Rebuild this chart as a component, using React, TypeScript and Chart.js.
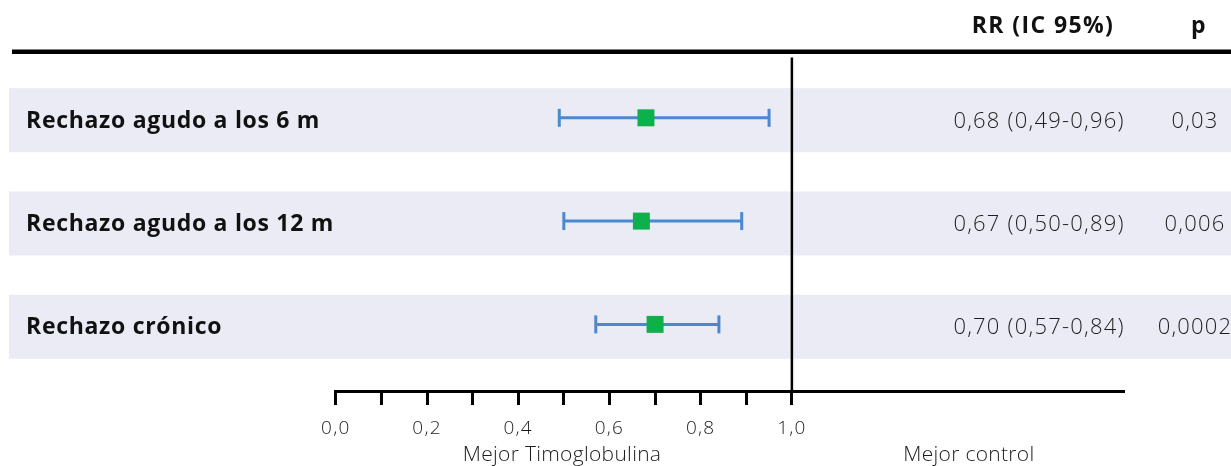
import React, { useEffect, useRef } from "react";
import { Chart, registerables } from "chart.js";

Chart.register(...registerables);

const categories = ["Rechazo agudo a los 6 m", "Rechazo agudo a los 12 m", "Rechazo crónico"];
const rr = [0.68, 0.67, 0.7];
const ciLow = [0.49, 0.5, 0.57];
const ciHigh = [0.95, 0.89, 0.84];
const rrLabels = ["0,68 (0,49-0,96)", "0,67 (0,50-0,89)", "0,70 (0,57-0,84)"];
const pValues = ["0,03", "0,006", "0,0002"];
const headerRR = "RR (IC 95%)";
const headerP = "p";
const leftNote = "Mejor Timoglobulina";
const rightNote = "Mejor control";
const tickValues = [0, 0.1, 0.2, 0.3, 0.4, 0.5, 0.6, 0.7, 0.8, 0.9, 1.0];
const labeledTicks = [0, 0.2, 0.4, 0.6, 0.8, 1.0];

const W = 1231;
const H = 466;
const GREEN = "#0db04b";
const BLUE = "#4a89cf";
const BAND = "#ebebf5";
const FAMILY = "'Open Sans', 'Noto Sans', sans-serif";
const BOLD_FONT = `bold 23px ${FAMILY}`;
const LIGHT_FONT = `300 22px ${FAMILY}`;
const NOTE_FONT = `300 21px ${FAMILY}`;
const TEXT_DARK = "#111";
const TEXT_GRAY = "#1e1e1e";

const forestPlugin = {
  id: "forestDecor",
  beforeDraw(chart: any) {
    const ctx = chart.ctx;
    const y = chart.scales.y;
    ctx.save();
    ctx.fillStyle = BAND;
    categories.forEach((_, i) => {
      const top = y.getPixelForValue(i - 0.287);
      const bot = y.getPixelForValue(i + 0.333);
      ctx.fillRect(9, top, W - 9, bot - top);
    });
    ctx.fillStyle = "#000";
    ctx.fillRect(12, 49.5, W - 12, 4.5);
    ctx.restore();
    // spacing used by the axis tick labels
    ctx.letterSpacing = "1.2px";
  },
  beforeDatasetsDraw(chart: any) {
    const ctx = chart.ctx;
    const x = chart.scales.x;
    const area = chart.chartArea;
    ctx.save();
    ctx.strokeStyle = "#000";
    ctx.lineWidth = 2.5;
    const px = x.getPixelForValue(1);
    ctx.beginPath();
    ctx.moveTo(px, area.top);
    ctx.lineTo(px, area.bottom);
    ctx.stroke();
    ctx.restore();
  },
  afterDraw(chart: any) {
    const ctx = chart.ctx;
    const x = chart.scales.x;
    const y = chart.scales.y;
    ctx.save();
    ctx.textBaseline = "middle";
    ctx.font = BOLD_FONT;
    ctx.fillStyle = TEXT_DARK;
    ctx.textAlign = "center";
    ctx.letterSpacing = "1.4px";
    ctx.fillText(headerRR, 1043, 26);
    ctx.fillText(headerP, 1199, 26);
    categories.forEach((c, i) => {
      const cy = y.getPixelForValue(i) + 3.5;
      ctx.font = BOLD_FONT;
      ctx.fillStyle = TEXT_DARK;
      ctx.textAlign = "left";
      ctx.letterSpacing = "0.7px";
      ctx.fillText(c, 26, cy);
      ctx.font = LIGHT_FONT;
      ctx.fillStyle = TEXT_GRAY;
      ctx.textAlign = "center";
      ctx.letterSpacing = "1.2px";
      ctx.fillText(rrLabels[i], 1039, cy);
      ctx.fillText(pValues[i], 1195, cy);
    });
    ctx.font = NOTE_FONT;
    ctx.fillStyle = TEXT_GRAY;
    ctx.textAlign = "center";
    ctx.letterSpacing = "0.3px";
    ctx.fillText(leftNote, x.getPixelForValue(0.496), 455);
    ctx.fillText(rightNote, x.getPixelForValue(1.388), 455);
    ctx.restore();
  },
};

export default function App() {
  const ref = useRef<HTMLCanvasElement>(null);
  useEffect(() => {
    if (!ref.current) return;
    const datasets: any[] = [
      {
        type: "scatter",
        data: rr.map((v, i) => ({ x: v, y: i })),
        pointStyle: "rect",
        pointRadius: 12,
        pointBorderWidth: 0,
        pointBackgroundColor: GREEN,
        backgroundColor: GREEN,
        borderColor: GREEN,
      },
      ...categories.map((_, i) => ({
        type: "line",
        data: [
          { x: ciLow[i], y: i },
          { x: ciHigh[i], y: i },
        ],
        borderColor: BLUE,
        borderWidth: 3,
        pointStyle: "line",
        pointRotation: 90,
        pointRadius: 9,
        pointBorderWidth: 3,
        pointBorderColor: BLUE,
        pointBackgroundColor: BLUE,
        fill: false,
      })),
    ];
    const chart = new Chart(ref.current, {
      type: "scatter",
      data: { datasets },
      plugins: [forestPlugin],
      options: {
        animation: false,
        responsive: false,
        events: [],
        clip: false,
        layout: { padding: { left: 335.8, right: W - 1123, top: 57.5, bottom: 0 } },
        plugins: { legend: { display: false }, tooltip: { enabled: false } },
        scales: {
          x: {
            type: "linear",
            min: 0,
            max: 1.726,
            afterBuildTicks: (scale: any) => {
              scale.ticks = tickValues.map((v) => ({ value: v }));
            },
            afterFit: (scale: any) => {
              scale.height = H - 391;
            },
            border: { display: true, color: "#000", width: 3 },
            grid: {
              drawOnChartArea: false,
              drawTicks: true,
              tickLength: 14,
              tickWidth: 3,
              tickColor: "#000",
              color: "#000",
              lineWidth: 3,
            },
            ticks: {
              autoSkip: false,
              maxRotation: 0,
              padding: 12,
              color: TEXT_GRAY,
              font: { family: FAMILY, size: 19, weight: "300" as any },
              callback: (v: any) => {
                const n = Number(v);
                return labeledTicks.some((t) => Math.abs(t - n) < 1e-6) ? n.toFixed(1).replace(".", ",") : "";
              },
            },
          },
          y: {
            type: "linear",
            display: false,
            reverse: true,
            min: -0.584,
            max: 2.645,
          },
        },
      } as any,
    });
    return () => chart.destroy();
  }, []);
  return (
    <div style={{ position: "absolute", left: 0, top: 0, width: W, height: H, background: "#fff" }}>
      <canvas ref={ref} width={W} height={H} style={{ width: W, height: H, display: "block" }} />
    </div>
  );
}
